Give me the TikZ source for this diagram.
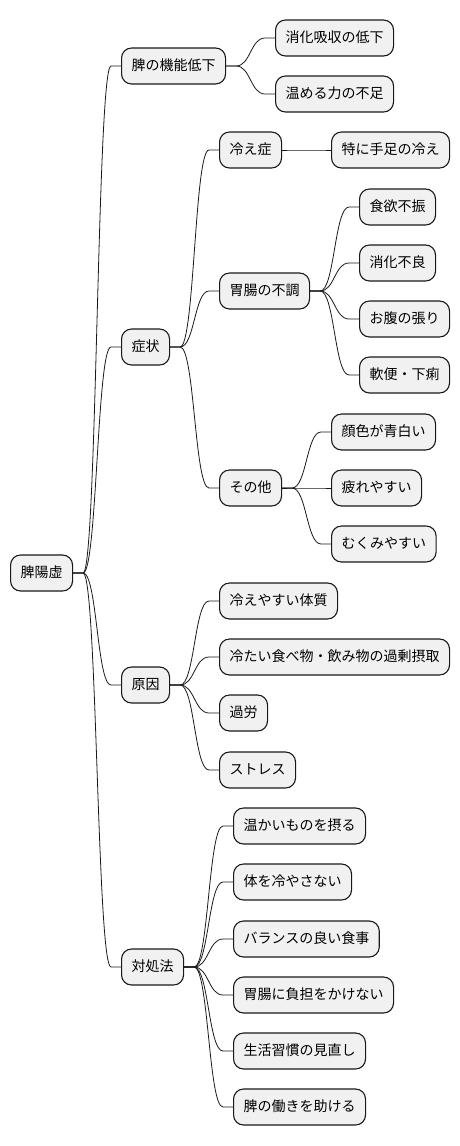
\documentclass[tikz,border=0pt]{standalone}
\usepackage{fontspec}
\setmainfont{Noto Sans CJK JP}
\usetikzlibrary{calc}
\tikzset{
  box/.style={draw=black!90, fill=black!5.5, line width=1.1pt, rounded corners=10pt,
    anchor=west, minimum height=36pt, inner xsep=10pt, inner ysep=0pt,
    font=\fontsize{14}{16}\selectfont, text height=11pt, text depth=2pt},
  link/.style={draw=black!90, line width=0.8pt}
}
\newcommand{\mmlink}[2]{\draw[link] let \p1=(#1.east), \p2=(#2.west) in
  (\p1) -- (\x1+10pt,\y1) .. controls ({(\x1+\x2)/2},\y1) and ({(\x1+\x2)/2},\y2) .. (\x2-10pt,\y2) -- (\p2);}
\begin{document}
\begin{tikzpicture}[x=1pt,y=-1pt]
\useasboundingbox (0,0) rectangle (460,1146);
\node[box] (root) at (10,573) {脾陽虚};
% branch 1
\node[box] (a) at (121,66) {脾の機能低下};
\node[box] (a1) at (275,38) {消化吸収の低下};
\node[box] (a2) at (275,94) {温める力の不足};
% branch 2
\node[box] (b) at (121,347) {症状};
\node[box] (b1) at (219,150) {冷え症};
\node[box] (b11) at (331,150) {特に手足の冷え};
\node[box] (b2) at (219,291) {胃腸の不調};
\node[box] (b21) at (359,207) {食欲不振};
\node[box] (b22) at (359,263) {消化不良};
\node[box] (b23) at (359,319) {お腹の張り};
\node[box] (b24) at (359,375) {軟便・下痢};
\node[box] (b3) at (219,488) {その他};
\node[box] (b31) at (331,432) {顔色が青白い};
\node[box] (b32) at (331,488) {疲れやすい};
\node[box] (b33) at (331,544) {むくみやすい};
% branch 3
\node[box] (c) at (121,685) {原因};
\node[box] (c1) at (219,601) {冷えやすい体質};
\node[box] (c2) at (219,657) {冷たい食べ物・飲み物の過剰摂取};
\node[box] (c3) at (219,713) {過労};
\node[box] (c4) at (219,770) {ストレス};
% branch 4
\node[box] (d) at (121,967) {対処法};
\node[box] (d1) at (233,826) {温かいものを摂る};
\node[box] (d2) at (233,882) {体を冷やさない};
\node[box] (d3) at (233,939) {バランスの良い食事};
\node[box] (d4) at (233,995) {胃腸に負担をかけない};
\node[box] (d5) at (233,1051) {生活習慣の見直し};
\node[box] (d6) at (233,1107) {脾の働きを助ける};
% links
\mmlink{root}{a}\mmlink{root}{b}\mmlink{root}{c}\mmlink{root}{d}
\mmlink{a}{a1}\mmlink{a}{a2}
\mmlink{b}{b1}\mmlink{b}{b2}\mmlink{b}{b3}
\mmlink{b1}{b11}
\mmlink{b2}{b21}\mmlink{b2}{b22}\mmlink{b2}{b23}\mmlink{b2}{b24}
\mmlink{b3}{b31}\mmlink{b3}{b32}\mmlink{b3}{b33}
\mmlink{c}{c1}\mmlink{c}{c2}\mmlink{c}{c3}\mmlink{c}{c4}
\mmlink{d}{d1}\mmlink{d}{d2}\mmlink{d}{d3}\mmlink{d}{d4}\mmlink{d}{d5}\mmlink{d}{d6}
\end{tikzpicture}
\end{document}
